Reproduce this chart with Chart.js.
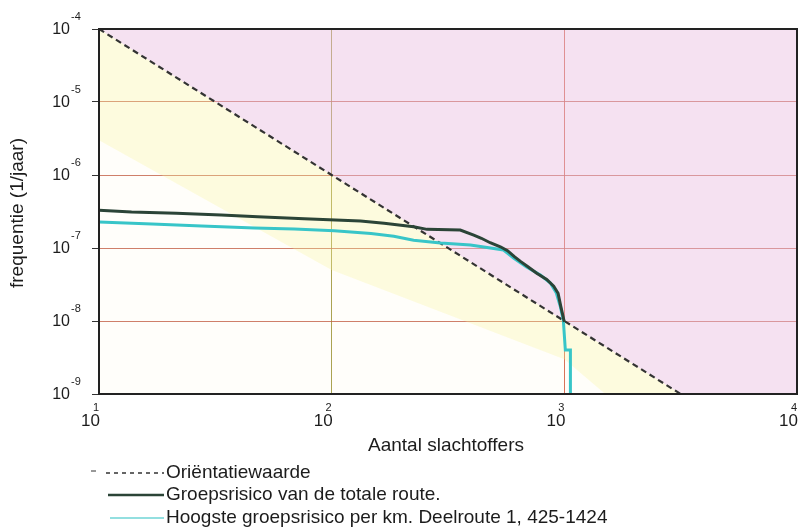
<!DOCTYPE html>
<html>
<head>
<meta charset="utf-8">
<script src="https://cdn.jsdelivr.net/npm/chart.js@4.4.1/dist/chart.umd.min.js"></script>
<style>
  html, body { margin: 0; padding: 0; background: #fff; }
</style>
</head>
<body>
<canvas id="fn" width="803" height="529"></canvas>
<script>
// axis ticks (decades) and their exponents
const xTicks = [10, 100, 1000, 10000];
const xExp = ['1', '2', '3', '4'];
const yTicks = [1e-4, 1e-5, 1e-6, 1e-7, 1e-8, 1e-9];
const yExp = ['-4', '-5', '-6', '-7', '-8', '-9'];

// orientatiewaarde (dashed line) and the coloured zones around it
const owN = [10, 3162];
const owF = [1e-4, 1e-9];
const pinkN = [10, 3162, 10000];
const pinkF = [1e-4, 1e-9, 1e-9];
const yellowN = [10, 100, 1000, 1500, 10000];
const yellowF = [3e-6, 5e-8, 3e-9, 1e-9, 1e-9];

// groepsrisico van de totale route
const totaalN = [10, 13.8, 21.5, 33.5, 48.1, 76.2, 133, 168, 225, 257, 357, 408, 440, 480, 531, 570, 610, 650, 700, 761, 840, 900, 940, 965, 1000];
const totaalF = [3.28e-7, 3.11e-7, 2.99e-7, 2.83e-7, 2.68e-7, 2.52e-7, 2.34e-7, 2.18e-7, 1.96e-7, 1.80e-7, 1.76e-7, 1.50e-7, 1.36e-7, 1.18e-7, 1.04e-7, 9.2e-8, 7.6e-8, 6.5e-8, 5.5e-8, 4.5e-8, 3.7e-8, 3.0e-8, 2.4e-8, 1.6e-8, 9.7e-9];

// hoogste groepsrisico per km, deelroute 1
const kmN = [10, 16.9, 27.6, 46.6, 69.1, 102.5, 147.6, 185, 225, 294, 395, 548, 605, 688, 789, 871, 924, 962, 990, 1010, 1062, 1062];
const kmF = [2.27e-7, 2.13e-7, 2.0e-7, 1.88e-7, 1.82e-7, 1.72e-7, 1.58e-7, 1.45e-7, 1.28e-7, 1.17e-7, 1.10e-7, 9.4e-8, 7.3e-8, 5.5e-8, 4.27e-8, 3.32e-8, 2.42e-8, 1.56e-8, 1.03e-8, 4.0e-9, 4.0e-9, 1e-9];

const legendItems = ['Oriëntatiewaarde', 'Groepsrisico van de totale route.', 'Hoogste groepsrisico per km. Deelroute 1, 425-1424'];
const xTitle = 'Aantal slachtoffers';
const yTitle = 'frequentie (1/jaar)';

const pts = (xs, ys) => xs.map((x, i) => ({ x: x, y: ys[i] }));
const FONT = '"Liberation Sans", Arial, sans-serif';
const INK = '#1c1c1c';

function text(ctx, s, x, y, size, align) {
  ctx.font = size + 'px ' + FONT;
  ctx.textAlign = align;
  ctx.textBaseline = 'middle';
  ctx.fillText(s, x, y);
}

const decor = {
  id: 'decor',
  beforeDraw(chart) {
    const { ctx, chartArea: a } = chart;
    ctx.save();
    ctx.fillStyle = '#fffefa';
    ctx.fillRect(a.left, a.top, a.right - a.left, a.bottom - a.top);
    ctx.restore();
  },
  afterDatasetsDraw(chart) {
    const { ctx, chartArea: a } = chart;
    ctx.save();
    ctx.strokeStyle = '#222';
    ctx.lineWidth = 2;
    ctx.strokeRect(a.left, a.top, a.right - a.left, a.bottom - a.top);
    ctx.restore();
  },
  afterDraw(chart) {
    const { ctx } = chart;
    const xs = chart.scales.x, ys = chart.scales.y;
    ctx.save();
    ctx.fillStyle = INK;

    yTicks.forEach((v, i) => {
      const py = ys.getPixelForValue(v);
      text(ctx, '10', 70, py + 1, 16, 'right');
      text(ctx, yExp[i], 71, py - 12, 11, 'left');
    });
    xTicks.forEach((v, i) => {
      const px = xs.getPixelForValue(v);
      text(ctx, '10', px + 1, 421, 17, 'right');
      text(ctx, xExp[i], px - 3, 408, 11, 'center');
    });

    text(ctx, xTitle, 446, 446, 19, 'center');
    ctx.save();
    ctx.translate(18, 213);
    ctx.rotate(-Math.PI / 2);
    text(ctx, yTitle, 0, 0, 19, 'center');
    ctx.restore();

    // legend
    const rows = [473, 495, 518];
    ctx.lineCap = 'butt';
    ctx.strokeStyle = '#333';
    ctx.lineWidth = 1.5;
    ctx.setLineDash([4, 4]);
    ctx.beginPath(); ctx.moveTo(106, rows[0]); ctx.lineTo(164, rows[0]); ctx.stroke();
    ctx.setLineDash([]);
    ctx.lineWidth = 1;
    ctx.beginPath(); ctx.moveTo(91, rows[0] - 2); ctx.lineTo(96, rows[0] - 2); ctx.stroke();
    ctx.strokeStyle = '#2b4437';
    ctx.lineWidth = 2.5;
    ctx.beginPath(); ctx.moveTo(108, rows[1]); ctx.lineTo(164, rows[1]); ctx.stroke();
    ctx.strokeStyle = '#6fd4d6';
    ctx.lineWidth = 1.5;
    ctx.beginPath(); ctx.moveTo(110, rows[2]); ctx.lineTo(164, rows[2]); ctx.stroke();
    legendItems.forEach((s, i) => text(ctx, s, 166, rows[i], 19, 'left'));
    ctx.restore();
  }
};

new Chart(document.getElementById('fn'), {
  type: 'line',
  data: {
    datasets: [
      {
        label: 'zone boven',
        data: pts(pinkN, pinkF),
        borderColor: 'transparent',
        borderWidth: 0,
        pointRadius: 0,
        fill: 'end',
        backgroundColor: 'rgba(232,186,228,0.42)',
        order: 10
      },
      {
        label: 'zone onder',
        data: pts(yellowN, yellowF),
        borderColor: 'transparent',
        borderWidth: 0,
        pointRadius: 0,
        fill: { target: 0 },
        backgroundColor: 'rgba(250,246,160,0.3)',
        order: 9
      },
      {
        label: legendItems[0],
        data: pts(owN, owF),
        borderColor: '#333',
        borderWidth: 2.2,
        borderDash: [6, 4],
        pointRadius: 0,
        fill: false,
        order: 3
      },
      {
        label: legendItems[2],
        data: pts(kmN, kmF),
        borderColor: '#38c5c8',
        borderWidth: 3,
        pointRadius: 0,
        fill: false,
        order: 2
      },
      {
        label: legendItems[1],
        data: pts(totaalN, totaalF),
        borderColor: '#2b4437',
        borderWidth: 3,
        pointRadius: 0,
        fill: false,
        order: 1
      }
    ]
  },
  options: {
    responsive: false,
    animation: false,
    layout: { padding: { left: 92, top: 29, right: 6, bottom: 135 } },
    plugins: {
      legend: { display: false },
      tooltip: { enabled: false }
    },
    scales: {
      x: {
        type: 'logarithmic',
        min: 10,
        max: 10000,
        afterBuildTicks: s => { s.ticks = xTicks.map(v => ({ value: v })); },
        ticks: { display: false },
        border: { display: false },
        grid: {
          drawTicks: false,
          color: c => c.tick && c.tick.value === 100 ? 'rgba(150,140,40,0.8)' : 'rgba(210,90,60,0.85)'
        }
      },
      y: {
        type: 'logarithmic',
        min: 1e-9,
        max: 1e-4,
        afterBuildTicks: s => { s.ticks = yTicks.map(v => ({ value: v })); },
        ticks: { display: false },
        border: { display: false },
        grid: {
          drawTicks: true,
          tickLength: 7,
          tickColor: '#333',
          color: 'rgba(195,95,70,0.8)'
        }
      }
    }
  },
  plugins: [decor]
});
</script>
</body>
</html>
